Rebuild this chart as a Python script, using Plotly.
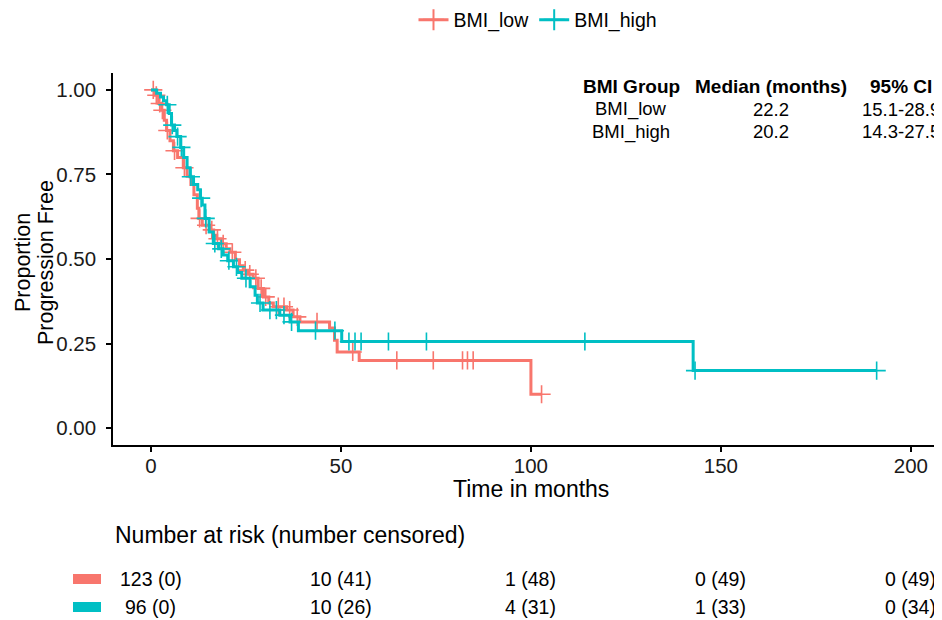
import numpy as np
import plotly.graph_objects as go

# ---------------- data ----------------
groups = ["BMI_low", "BMI_high"]
colors = ["#F8766D", "#00BFC4"]

low_times = [0, 1.0, 2.0, 2.8, 3.5, 4.1, 5.0, 5.9, 7.0, 8.5, 9.5, 10.5, 11.3, 12.2, 12.6, 13.5,
             15.5, 16.5, 17.3, 18.5, 19.8, 20.8, 22.2, 23.3, 24.3, 25.5, 26.9, 28.2, 29.6, 31.0,
             32.2, 35.7, 37.4, 39.2, 47.0, 48.3, 49.0, 54.8, 100.0, 102.8]
low_surv = [1.0, 0.984, 0.96, 0.94, 0.91, 0.88, 0.85, 0.82, 0.80, 0.77, 0.745, 0.72, 0.69, 0.65,
            0.62, 0.60, 0.586, 0.57, 0.56, 0.545, 0.53, 0.52, 0.498, 0.48, 0.467, 0.455, 0.443,
            0.413, 0.388, 0.37, 0.359, 0.349, 0.329, 0.314, 0.296, 0.26, 0.225, 0.20, 0.10, 0.10]
low_cens = [0.6, 1.4, 2.3, 3.0, 4.3, 6.2, 8.8, 12.8, 14.5, 16.0, 17.5, 19.0, 21.4, 24.8, 26.0,
            27.6, 29.0, 30.2, 33.5, 35.0, 36.5, 38.5, 43.7, 53.1, 64.7, 74.3, 82.0, 83.3, 84.8, 102.8]

high_times = [0, 1.5, 2.5, 3.3, 4.1, 4.8, 5.4, 6.2, 6.8, 7.8, 8.6, 9.5, 10.3, 11.2, 12.3, 13.0,
              13.5, 14.2, 15.3, 16.4, 17.8, 19.0, 20.2, 21.7, 22.8, 23.9, 26.1, 27.4, 28.0, 29.5,
              33.9, 36.6, 38.8, 50.2, 142.7, 191.0]
high_surv = [1.0, 0.99, 0.979, 0.968, 0.956, 0.93, 0.896, 0.88, 0.862, 0.83, 0.80, 0.77, 0.743,
             0.72, 0.705, 0.68, 0.66, 0.62, 0.58, 0.546, 0.53, 0.512, 0.495, 0.477, 0.46, 0.443,
             0.418, 0.393, 0.37, 0.349, 0.334, 0.314, 0.288, 0.256, 0.17, 0.17]
high_cens = [4.3, 5.6, 7.0, 8.0, 10.5, 13.2, 14.4, 16.8, 18.5, 20.5, 22.5, 25.0, 28.7, 31.3, 33.0,
             35.0, 37.0, 43.3, 48.4, 52.1, 53.7, 55.3, 62.5, 72.5, 114.2, 143.2, 191.0]

x_ticks = [0, 50, 100, 150, 200]
y_ticks = [0.0, 0.25, 0.50, 0.75, 1.00]
y_ticklabels = ["0.00", "0.25", "0.50", "0.75", "1.00"]

table_header = ["BMI Group", "Median (months)", "95% CI"]
table_rows = [["BMI_low", "22.2", "15.1-28.9"], ["BMI_high", "20.2", "14.3-27.5"]]

risk_times = [0, 50, 100, 150, 200]
risk_low = ["123 (0)", "10 (41)", "1 (48)", "0 (49)", "0 (49)"]
risk_high = ["96 (0)", "10 (26)", "4 (31)", "1 (33)", "0 (34)"]

y_title_lines = ["Proportion", "Progression Free"]

# ---------------- layout geometry ----------------
OFF = 8                      # page body margin of the html page
W, H = 942 - OFF, 620 - OFF
ML, MT = 113 - OFF, 73 - OFF
MB = H - (445 - OFF)
MR = 0
PW, PH = W - ML - MR, H - MT - MB
FONT = "Liberation Sans, Arial, sans-serif"


def py2paper(py):            # py: pixel in the screenshot
    return ((445 - OFF) - (py - OFF)) / PH


def px2paper(px):
    return ((px - OFF) - ML) / PW


def step_at(times, surv, t):
    idx = np.searchsorted(np.array(times), np.array(t), side="right") - 1
    return np.array(surv)[idx]


fig = go.Figure()
curves = [(low_times, low_surv, low_cens), (high_times, high_surv, high_cens)]
for (tt, ss, cc), name, col in zip(curves, groups, colors):
    fig.add_trace(go.Scatter(x=tt, y=ss, mode="lines", line=dict(shape="hv", color=col, width=3),
                             showlegend=False, hoverinfo="skip"))
    fig.add_trace(go.Scatter(x=cc, y=step_at(tt, ss, cc), mode="markers",
                             marker=dict(symbol="cross-thin", size=13, line=dict(color=col, width=1.6)),
                             showlegend=False, cliponaxis=False))
    fig.add_trace(go.Scatter(x=[None], y=[None], mode="lines+markers", name=name,
                             line=dict(color=col, width=3),
                             marker=dict(symbol="cross-thin", size=15, line=dict(color=col, width=2))))

annotations = []
# summary table
col_x = [631, 771, 901]
row_y = [87, 109, 132]
for cx, txt in zip(col_x, table_header):
    annotations.append(dict(x=px2paper(cx), y=py2paper(row_y[0]), xref="paper", yref="paper",
                            text="<b>" + txt + "</b>", showarrow=False, xanchor="center", yanchor="middle",
                            font=dict(family=FONT, size=19, color="black")))
for r, row in enumerate(table_rows):
    for cx, txt in zip(col_x, row):
        annotations.append(dict(x=px2paper(cx), y=py2paper(row_y[r + 1]), xref="paper", yref="paper",
                                text=txt, showarrow=False, xanchor="center", yanchor="middle",
                                font=dict(family=FONT, size=18.5, color="black")))
# axis titles
annotations.append(dict(x=px2paper(531), y=py2paper(489), xref="paper", yref="paper",
                        text="Time in months", showarrow=False, xanchor="center", yanchor="middle",
                        font=dict(family=FONT, size=23, color="black")))
for lx, line in zip((23, 46), y_title_lines):
    annotations.append(dict(x=px2paper(lx), y=py2paper(263), xref="paper", yref="paper",
                            text=line, showarrow=False, textangle=-90,
                            xanchor="center", yanchor="middle",
                            font=dict(family=FONT, size=21.5, color="black")))
# risk table
annotations.append(dict(x=px2paper(113), y=py2paper(535), xref="paper", yref="paper",
                        text="Number at risk (number censored)", showarrow=False,
                        xanchor="left", yanchor="middle", font=dict(family=FONT, size=23, color="black")))
for vals, py in ((risk_low, 579), (risk_high, 607)):
    for t, v in zip(risk_times, vals):
        annotations.append(dict(x=t, y=py2paper(py), xref="x", yref="paper", text=v, showarrow=False,
                                xanchor="center", yanchor="middle",
                                font=dict(family=FONT, size=19.5, color="black")))

shapes = []
for col, py in zip(colors, (579, 607)):
    shapes.append(dict(type="rect", xref="paper", yref="paper", x0=px2paper(73), x1=px2paper(101),
                       y0=py2paper(py - 5), y1=py2paper(py + 5), fillcolor=col, line=dict(width=0)))

fig.update_layout(
    width=W, height=H, margin=dict(l=ML, r=MR, t=MT, b=MB, autoexpand=False),
    plot_bgcolor="white", paper_bgcolor="white",
    font=dict(family=FONT, size=19, color="black"),
    legend=dict(orientation="h", x=px2paper(538), xanchor="center", y=py2paper(20), yanchor="middle",
                font=dict(family=FONT, size=19.5, color="black"), itemwidth=30),
    annotations=annotations, shapes=shapes,
    xaxis=dict(range=[-10, 208.2], tickvals=x_ticks, ticks="outside", ticklen=5, tickwidth=1.5,
               tickcolor="black", showline=True, linecolor="black", linewidth=1.5, showgrid=False,
               zeroline=False, ticklabelstandoff=-3,
               tickfont=dict(family=FONT, size=20.5, color="#1a1a1a")),
    yaxis=dict(range=[-0.05, 1.05], tickvals=y_ticks, ticktext=y_ticklabels, ticks="outside", ticklen=5,
               tickwidth=1.5, tickcolor="black", showline=True, linecolor="black", linewidth=1.5,
               showgrid=False, zeroline=False, ticklabelstandoff=6,
               tickfont=dict(family=FONT, size=20.5, color="#1a1a1a")),
)

fig.write_html("out.html")
